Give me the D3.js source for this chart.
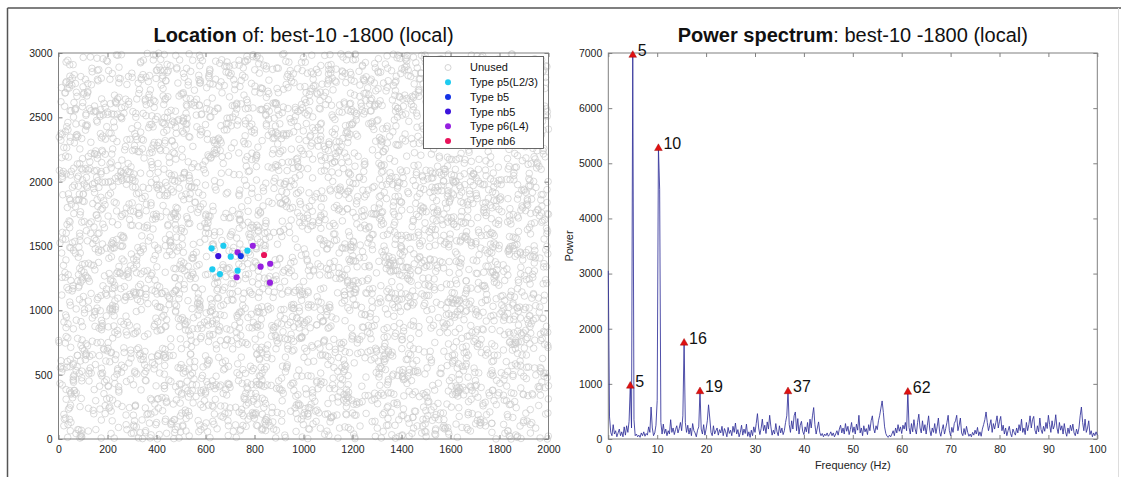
<!DOCTYPE html>
<html><head><meta charset="utf-8">
<script src="https://cdn.jsdelivr.net/npm/d3@7"></script>
<style>body{margin:0;background:#fff;} svg{display:block;font-family:"Liberation Sans",Arial,sans-serif;}</style>
</head><body><svg id="c" width="1121" height="477"></svg>
<script>
// ---------- DATA ----------
const legendTypes = ["Unused","Type p5(L2/3)","Type b5","Type nb5","Type p6(L4)","Type nb6"];
const typeColors  = ["none","#1ecbf0","#1432e6","#3c14dc","#9620e0","#e8125a"];
// typed (used) cells: x, y, type index into legendTypes
const cellX    = [625, 673, 652, 703, 731, 744, 771, 793, 839, 628, 659, 731, 727, 825, 864, 863];
const cellY    = [1482,1502,1422,1417,1451,1422,1464,1502,1430,1319,1282,1308,1257,1339,1362,1215];
const cellType = [1, 1, 3, 1, 4, 2, 1, 4, 5, 1, 1, 1, 4, 4, 4, 4];
const unusedCount = 4200;   // background "Unused" cells (texture, positions not readable)

const locXTicks = [0,200,400,600,800,1000,1200,1400,1600,1800,2000];
const locYTicks = [0,500,1000,1500,2000,2500,3000];
const specXTicks = [0,10,20,30,40,50,60,70,80,90,100];
const specYTicks = [0,1000,2000,3000,4000,5000,6000,7000];

const specStep = 0.25; // Hz per sample
const specPower = [
3050,400,120,60,260,90,150,40,110,180,60,130,40,220,70,240,120,320,980,200,
6980,350,60,90,40,70,30,110,60,130,50,100,70,220,120,580,200,60,110,250,
700,5290,4530,300,90,270,100,180,60,150,90,350,120,200,80,170,240,110,190,300,
150,420,1760,300,120,250,90,200,60,280,150,110,40,160,220,880,180,90,260,70,
180,330,620,380,120,60,240,90,150,200,70,170,110,230,60,190,130,40,210,100,
160,60,230,120,290,90,170,40,120,250,70,180,100,270,50,130,30,160,60,220,
120,280,460,200,80,190,360,150,250,100,310,180,430,220,70,160,90,280,130,60,
240,110,200,80,150,300,420,880,260,120,330,180,420,490,150,370,90,250,320,140,
80,220,130,300,100,360,200,420,570,260,90,200,310,120,60,100,40,90,60,110,
50,80,130,60,110,40,90,150,70,180,250,110,200,90,280,140,230,80,170,300,
120,220,90,270,160,430,110,200,60,240,130,190,80,260,150,330,420,200,110,240,
170,330,430,560,690,480,220,100,50,30,70,40,90,150,60,200,110,260,140,220,
100,250,180,300,150,870,210,90,280,130,350,180,90,300,450,200,110,330,150,260,
90,250,420,160,60,200,120,280,100,220,380,130,50,170,260,90,190,300,430,150,
60,210,120,280,330,430,150,250,380,110,60,190,80,230,120,50,90,40,120,70,
160,90,210,60,130,50,180,260,350,490,300,150,250,350,120,280,180,300,420,200,
320,410,150,250,90,200,60,150,230,100,40,180,120,70,200,110,260,150,360,120,
200,80,300,150,260,420,200,350,410,160,90,240,130,380,170,100,230,140,300,190,
430,260,120,330,180,250,440,200,100,300,160,240,90,280,130,50,200,100,250,150,
270,110,60,180,90,200,420,580,300,150,360,120,200,330,80,150,40,110,60,130,
70];
const peakFreq  = [5, 10.25, 15.5, 4.5, 18.75, 36.75, 61.25];
const peakLabel = ["5","10","16","5","19","37","62"];

// ---------- DRAW ----------
const svg = d3.select("#c");
const axisCol = "#808080", txtCol = "#222";

// outer frame
svg.append("line").attr("x1",7.5).attr("y1",8).attr("x2",1121).attr("y2",8).attr("stroke","#555").attr("stroke-width",1.5);
svg.append("line").attr("x1",7.5).attr("y1",8).attr("x2",7.5).attr("y2",477).attr("stroke","#555").attr("stroke-width",1.5);
svg.append("line").attr("x1",1118.5).attr("y1",8).attr("x2",1118.5).attr("y2",477).attr("stroke","#ddd").attr("stroke-width",1);

function styleAxis(g, showText){
  g.select(".domain").remove();
  g.selectAll(".tick line").attr("stroke",axisCol);
  g.selectAll(".tick text").attr("fill",txtCol).style("font-size","10.5px")
    .style("font-family",'"Liberation Sans",Arial,sans-serif');
  if(!showText) g.selectAll(".tick text").remove();
}
const fmt = d3.format("d");
function frame(x, y, xt, yt){
  const [x0,x1] = x.range(), [y0,y1] = y.range();
  const b = svg.append("g");
  b.append("g").attr("transform",`translate(0,${y0})`).call(d3.axisBottom(x).tickValues(xt).tickFormat(fmt).tickSize(-4).tickPadding(7)).call(g=>styleAxis(g,true));
  b.append("g").attr("transform",`translate(0,${y1})`).call(d3.axisTop(x).tickValues(xt).tickSize(-4)).call(g=>styleAxis(g,false));
  b.append("g").attr("transform",`translate(${x0},0)`).call(d3.axisLeft(y).tickValues(yt).tickFormat(fmt).tickSize(-4).tickPadding(6)).call(g=>styleAxis(g,true));
  b.append("g").attr("transform",`translate(${x1},0)`).call(d3.axisRight(y).tickValues(yt).tickSize(-4)).call(g=>styleAxis(g,false));
  b.append("rect").attr("x",x0).attr("y",y1).attr("width",x1-x0).attr("height",y0-y1)
    .attr("fill","none").attr("stroke",axisCol).attr("stroke-width",1);
}

// ----- Left: location -----
const lx = d3.scaleLinear().domain([0,2000]).range([58.5,548.5]);
const ly = d3.scaleLinear().domain([0,3000]).range([439,53]);

const rnd = d3.randomLcg(0.4217);
const unusedX = d3.range(unusedCount).map(()=>rnd()*2000);
const unusedY = d3.range(unusedCount).map(()=>rnd()*3000);
svg.append("g").selectAll("circle").data(d3.range(unusedCount)).join("circle")
  .attr("cx",i=>lx(unusedX[i])).attr("cy",i=>ly(unusedY[i])).attr("r",3.3)
  .attr("fill","none").attr("stroke","#cbcbcb").attr("stroke-width",0.7);

frame(lx, ly, locXTicks, locYTicks);

svg.append("g").selectAll("circle").data(d3.range(cellX.length)).join("circle")
  .attr("cx",i=>lx(cellX[i])).attr("cy",i=>ly(cellY[i])).attr("r",3.1)
  .attr("fill",i=>typeColors[cellType[i]]);

// legend
const lg = svg.append("g");
lg.append("rect").attr("x",423.5).attr("y",56.5).attr("width",120).attr("height",92)
  .attr("fill","#fff").attr("stroke","#444").attr("stroke-width",0.8);
legendTypes.forEach((t,i)=>{
  const yy = 67.5 + i*14.7;
  lg.append("circle").attr("cx",448).attr("cy",yy).attr("r",3)
    .attr("fill",i===0?"none":typeColors[i]).attr("stroke",i===0?"#c6c6c6":"none").attr("stroke-width",0.75);
  lg.append("text").attr("x",470).attr("y",yy).attr("dy","0.36em").attr("fill","#111")
    .style("font-size","11px").text(t);
});

// title
const t1 = svg.append("text").attr("x",(58.5+548.5)/2).attr("y",42).attr("text-anchor","middle")
  .style("font-size","20px").attr("fill","#111");
t1.append("tspan").attr("font-weight","bold").text("Location");
t1.append("tspan").text(" of: best-10 -1800 (local)");

// ----- Right: power spectrum -----
const sx = d3.scaleLinear().domain([0,100]).range([608.3,1097.3]);
const sy = d3.scaleLinear().domain([0,7000]).range([439,53]);
frame(sx, sy, specXTicks, specYTicks);

svg.append("path").datum(specPower)
  .attr("d", d3.line().x((d,i)=>sx(i*specStep)).y(d=>sy(d)))
  .attr("fill","none").attr("stroke","#30309a").attr("stroke-width",0.85).attr("stroke-linejoin","round");

const pk = svg.append("g");
peakFreq.forEach((f,i)=>{
  const v = specPower[Math.round(f/specStep)];
  pk.append("path").attr("d",d3.symbol(d3.symbolTriangle,26)())
    .attr("transform",`translate(${sx(f)},${sy(v)+1})`)
    .attr("fill","#e01010").attr("stroke","#900").attr("stroke-width",0.4);
  pk.append("text").attr("x",sx(f)+5).attr("y",sy(v)).attr("dy","0.1em")
    .style("font-size","16px").attr("fill","#111").text(peakLabel[i]);
});

svg.append("text").attr("x",(608.3+1097.3)/2).attr("y",468.5).attr("text-anchor","middle")
  .style("font-size","11px").attr("fill",txtCol).text("Frequency (Hz)");
svg.append("text").attr("transform","translate(573,246) rotate(-90)").attr("text-anchor","middle")
  .style("font-size","11px").attr("fill",txtCol).text("Power");

const t2 = svg.append("text").attr("x",(608.3+1097.3)/2).attr("y",42).attr("text-anchor","middle")
  .style("font-size","20px").attr("fill","#111");
t2.append("tspan").attr("font-weight","bold").text("Power spectrum");
t2.append("tspan").text(": best-10 -1800 (local)");
</script></body></html>
